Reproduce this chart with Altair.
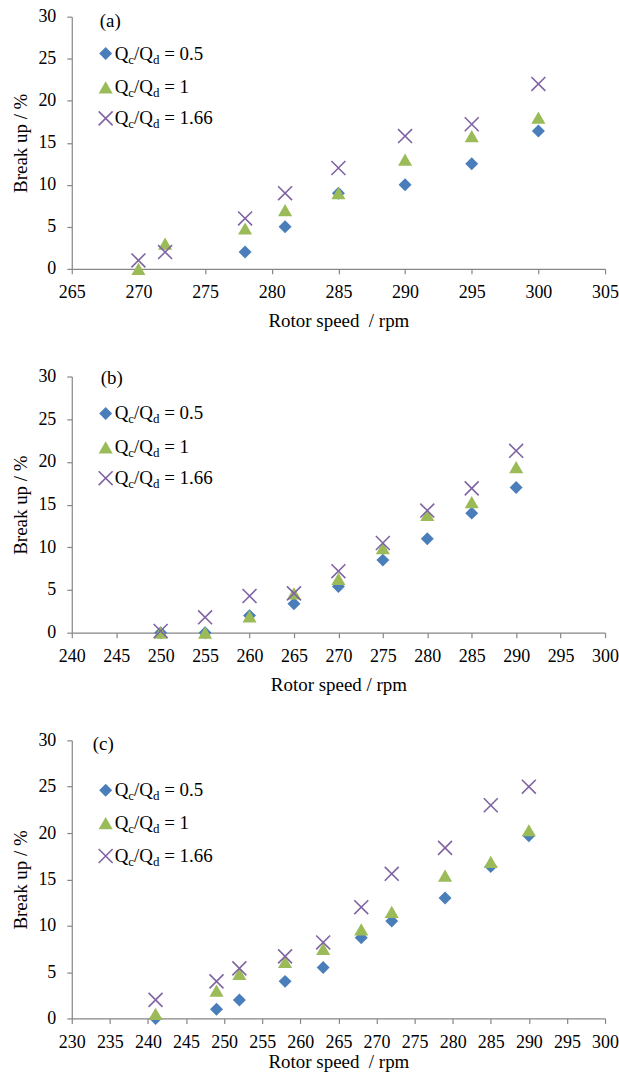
import altair as alt
import pandas as pd

FONT = "'Liberation Serif', 'Times New Roman', Times, serif"
BLUE = "#4A7EBB"
GREEN = "#9BBB59"
PURPLE = "#8064A2"
AXIS_GREY = "#868686"

# ---- panel (a) ----
a_speed_05 = [278, 281, 285, 290, 295, 300]
a_break_05 = [2, 5, 9, 10, 12.5, 16.4]
a_speed_1 = [270, 272, 278, 281, 285, 290, 295, 300]
a_break_1 = [0, 3, 4.8, 7, 9, 13, 15.8, 18]
a_speed_166 = [270, 272, 278, 281, 285, 290, 295, 300]
a_break_166 = [1, 2, 6, 9, 12, 15.8, 17.2, 22]

# ---- panel (b) ----
b_speed = [250, 255, 260, 265, 270, 275, 280, 285, 290]
b_break_05 = [0, 0, 2, 3.4, 5.4, 8.5, 11, 14, 17]
b_break_1 = [0, 0, 1.9, 4.6, 6.3, 9.9, 13.8, 15.3, 19.4]
b_break_166 = [0.2, 1.8, 4.3, 4.6, 7.2, 10.5, 14.3, 16.9, 21.3]

# ---- panel (c) ----
c_speed = [241, 249, 252, 258, 263, 268, 272, 279, 285, 290]
c_break_05 = [0, 1, 2, 4, 5.5, 8.7, 10.5, 13, 16.4, 19.7]
c_break_1 = [0.5, 3, 4.8, 6.1, 7.5, 9.6, 11.5, 15.4, 16.9, 20.3]
c_break_166 = [2, 4, 5.4, 6.7, 8.2, 12, 15.6, 18.4, 23, 25]

ratio_labels = ["0.5", "1", "1.66"]
y_ticks = [0, 5, 10, 15, 20, 25, 30]

# Times-metric advance widths (em units) used to lay out the subscripted legend text
ADV = {"Q": 0.722, "/": 0.278, " ": 0.25, "=": 0.564, ".": 0.25,
       "c": 0.444, "d": 0.5}
for _d in "0123456789":
    ADV[_d] = 0.5

MAIN_FS = 19
SUB_FS = 13
X_CROSS = "M-1,-1L1,1M-1,1L1,-1"


def text_width(s, fs):
    return sum(ADV.get(ch, 0.5) for ch in s) * fs


def one_row():
    return pd.DataFrame({"k": [0]})


def text_layer(txt, x, y, fs):
    return alt.Chart(one_row()).mark_text(
        text=txt, font=FONT, fontSize=fs, align="left",
        baseline="alphabetic", color="black"
    ).encode(x=alt.value(x), y=alt.value(y))


def legend_entry(value_label, shape, color, filled, size, x_sym, y_sym):
    layers = []
    sym = alt.Chart(one_row()).mark_point(
        shape=shape, filled=filled, size=size, color=color, opacity=1,
        strokeWidth=1.6
    ).encode(x=alt.value(x_sym), y=alt.value(y_sym))
    layers.append(sym)
    x = x_sym + 9
    base = y_sym + 6
    sub = base + 4
    pieces = [("Q", MAIN_FS, base), ("c", SUB_FS, sub), ("/Q", MAIN_FS, base),
              ("d", SUB_FS, sub)]
    for txt, fs, yy in pieces:
        layers.append(text_layer(txt, x, yy, fs))
        x += text_width(txt, fs)
    x += text_width(" ", MAIN_FS)
    layers.append(text_layer("= " + value_label, x, base, MAIN_FS))
    return layers


def series_layer(speeds, values, shape, color, filled, size, xscale, xaxis, yscale, yaxis):
    df = pd.DataFrame({"speed": speeds, "breakup": values})
    return alt.Chart(df).mark_point(
        shape=shape, filled=filled, size=size, color=color, opacity=1,
        strokeWidth=1.6
    ).encode(
        x=alt.X("speed:Q", scale=xscale, axis=xaxis),
        y=alt.Y("breakup:Q", scale=yscale, axis=yaxis),
    )


def panel(tag, tag_x, tag_y, xmin, xmax, height, rows_y, xtitle, xtitle_pad,
          s05, v05, s1, v1, s166, v166):
    xscale = alt.Scale(domain=[xmin, xmax], nice=False, zero=False)
    yscale = alt.Scale(domain=[0, 30], nice=False)
    common = dict(grid=False, domainColor=AXIS_GREY, tickColor=AXIS_GREY,
                  domainWidth=1.2, tickWidth=1.2, tickSize=5,
                  labelFont=FONT, labelFontSize=18, labelColor="black",
                  titleFont=FONT, titleFontSize=19, titleFontWeight="normal",
                  titleColor="black", labelOverlap=False, labelFlush=False)
    xaxis = alt.Axis(values=list(range(xmin, xmax + 1, 5)), title=xtitle,
                     labelPadding=10, titlePadding=xtitle_pad, **common)
    yaxis = alt.Axis(values=y_ticks, title="Break up / %", labelPadding=11,
                     titlePadding=7, **common)

    layers = [
        series_layer(s05, v05, "diamond", BLUE, True, 169, xscale, xaxis, yscale, yaxis),
        series_layer(s1, v1, "triangle-up", GREEN, True, 200, xscale, xaxis, yscale, yaxis),
        series_layer(s166, v166, X_CROSS, PURPLE, False, 196, xscale, xaxis, yscale, yaxis),
        text_layer(tag, tag_x, tag_y + 6, MAIN_FS),
    ]
    styles = [("diamond", BLUE, True, 169), ("triangle-up", GREEN, True, 200),
              (X_CROSS, PURPLE, False, 196)]
    for lab, (shape, color, filled, size), ry in zip(ratio_labels, styles, rows_y):
        layers += legend_entry(lab, shape, color, filled, size, 34, ry)
    return alt.layer(*layers).properties(width=535, height=height)


pa = panel("(a)", 28, 4, 265, 305, 253, [37, 71, 102], "Rotor speed\u00a0 / rpm", 10,
           a_speed_05, a_break_05, a_speed_1, a_break_1, a_speed_166, a_break_166)
pb = panel("(b)", 29, 2, 240, 300, 257, [37, 71, 102], "Rotor speed / rpm", 10,
           b_speed, b_break_05, b_speed, b_break_1, b_speed, b_break_166)
pc = panel("(c)", 21, 4, 230, 300, 279, [50, 83, 116], "Rotor speed\u00a0 / rpm", 1,
           c_speed, c_break_05, c_speed, c_break_1, c_speed, c_break_166)

chart = alt.vconcat(pa, pb, pc, spacing=108).properties(
    bounds="flush",
    padding={"left": 11, "top": 5, "right": 0, "bottom": 0},
    background="white",
).configure_view(stroke="transparent")

chart.save("out.html", embed_options={"renderer": "svg", "actions": False})
